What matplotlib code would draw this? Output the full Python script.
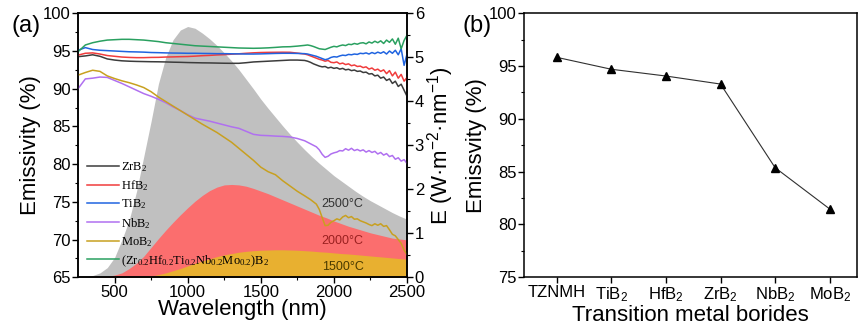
import matplotlib
matplotlib.use('Agg')
import matplotlib.pyplot as plt
import numpy as np

plt.rcParams['font.family'] = ['Liberation Sans', 'DejaVu Sans']
plt.rcParams['mathtext.default'] = 'regular'

# ---- panel (a): blackbody exitance (right axis), 50 nm steps ----
wl_bb = np.arange(250, 2501, 50)
bb_2500 = [0.0, 0.01, 0.04, 0.10, 0.22, 0.45, 0.85, 1.30, 1.95, 2.75, 3.55, 4.40, 5.00, 5.40, 5.62, 5.70,
           5.66, 5.55, 5.42, 5.27, 5.10, 4.92, 4.72, 4.50, 4.28, 4.05, 3.84, 3.64, 3.44, 3.25, 3.07, 2.90,
           2.74, 2.59, 2.45, 2.31, 2.19, 2.07, 1.95, 1.84, 1.74, 1.65, 1.56, 1.47, 1.39, 1.32]
bb_2000 = [0, 0, 0, 0.005, 0.02, 0.05, 0.10, 0.20, 0.32, 0.48, 0.68, 0.88, 1.07, 1.25, 1.42, 1.58,
           1.73, 1.86, 1.97, 2.05, 2.10, 2.11, 2.10, 2.07, 2.02, 1.96, 1.90, 1.83, 1.76, 1.69, 1.62, 1.55,
           1.48, 1.41, 1.35, 1.28, 1.22, 1.16, 1.11, 1.06, 1.01, 0.97, 0.93, 0.89, 0.87, 0.85]
bb_1500 = [0, 0, 0, 0, 0, 0, 0, 0, 0.005, 0.015, 0.03, 0.06, 0.10, 0.15, 0.20, 0.26,
           0.32, 0.37, 0.42, 0.47, 0.51, 0.54, 0.57, 0.59, 0.605, 0.615, 0.62, 0.625, 0.625, 0.62, 0.615, 0.605,
           0.595, 0.58, 0.57, 0.555, 0.54, 0.53, 0.515, 0.50, 0.485, 0.47, 0.455, 0.44, 0.425, 0.41]

# ---- panel (a): emissivity spectra (left axis) ----
wl = np.r_[250:1801:50, 1820:2501:20]
e_zr = [94.25, 94.35, 94.5, 94.3, 93.95, 93.8, 93.7, 93.65, 93.62, 93.6, 93.58, 93.57, 93.55, 93.52, 93.5, 93.47,
        93.45, 93.43, 93.42, 93.4, 93.38, 93.37, 93.37, 93.45, 93.55, 93.6, 93.65, 93.7, 93.75, 93.8, 93.8, 93.75,
        93.65, 93.5, 93.3, 93.15, 93.0, 92.9, 92.95, 92.75, 92.85, 92.7, 92.78, 92.6, 92.7, 92.5, 92.58, 92.4,
        92.48, 92.3, 92.35, 92.15, 92.2, 91.95, 92.0, 91.7, 91.8, 91.4, 91.55, 91.1, 91.3, 90.7, 91.0, 90.3,
        90.6, 89.8, 89.0]
e_hf = [94.45, 94.7, 94.75, 94.6, 94.4, 94.3, 94.2, 94.15, 94.12, 94.12, 94.15, 94.16, 94.2, 94.22, 94.25, 94.27,
        94.32, 94.38, 94.42, 94.48, 94.52, 94.58, 94.63, 94.7, 94.76, 94.8, 94.82, 94.83, 94.84, 94.83, 94.72, 94.6,
        94.5, 94.35, 94.2, 94.05, 93.9, 93.8, 93.65, 93.75, 93.5, 93.45, 93.55, 93.3, 93.4, 93.2, 93.3, 93.05,
        93.15, 92.95, 93.0, 92.8, 92.9, 92.6, 92.75, 92.45, 92.6, 92.3, 92.5, 92.0, 92.4, 91.7, 92.2, 91.4,
        91.9, 91.0, 91.5]
e_ti = [95.1, 95.45, 95.2, 95.1, 95.05, 95.0, 94.95, 94.9, 94.88, 94.85, 94.8, 94.78, 94.75, 94.73, 94.72, 94.7,
        94.7, 94.68, 94.67, 94.65, 94.65, 94.63, 94.62, 94.6, 94.6, 94.62, 94.65, 94.68, 94.7, 94.7, 94.68, 94.65,
        94.6, 94.5, 94.4, 94.3, 94.15, 94.0, 93.85, 93.95, 94.15, 94.25, 94.2, 94.35, 94.45, 94.4, 94.55, 94.5,
        94.6, 94.55, 94.7, 94.65, 94.75, 94.6, 94.8, 94.65, 94.85, 94.7, 94.9, 94.6, 95.0, 94.7, 95.1, 94.5,
        95.3, 93.1, 94.6]
e_nb = [90.0, 91.3, 91.4, 91.55, 91.5, 91.1, 90.7, 90.25, 89.8, 89.35, 89.0, 88.6, 88.15, 87.6, 87.1, 86.55,
        86.1, 85.9, 85.7, 85.45, 85.2, 84.95, 84.75, 84.35, 83.95, 83.82, 83.78, 83.72, 83.68, 83.6, 83.4, 83.1,
        82.9, 82.7, 82.5, 82.3, 81.9, 81.3, 80.9, 81.05, 81.35, 81.5, 81.6, 81.8, 81.75, 82.05, 81.85, 82.1,
        81.8, 81.95, 81.75, 81.9, 81.6, 81.8, 81.55, 81.7, 81.35, 81.55, 81.2, 81.4, 81.0, 81.15, 80.65, 80.85,
        80.4, 80.6, 80.1]
e_mo = [91.8, 92.15, 92.45, 92.3, 91.7, 91.35, 91.05, 90.8, 90.5, 90.15, 89.6, 88.9, 88.3, 87.7, 87.1, 86.5,
        85.9, 85.3, 84.75, 84.2, 83.55, 82.9, 82.1, 81.3, 80.5, 79.6, 79.0, 78.6, 77.8, 77.1, 76.4, 75.8,
        75.55, 75.3, 75.0, 74.7, 74.0, 72.9, 71.85, 71.9, 72.3, 72.5, 72.75, 72.6, 73.0, 73.2, 72.9, 73.05,
        72.7, 72.75, 72.5, 72.35, 72.2, 72.0, 71.85, 72.1, 71.9, 72.1, 71.75, 71.85, 71.3, 70.7, 70.5, 70.0,
        69.5, 68.6, 68.0]
e_hea = [94.9, 95.8, 96.1, 96.3, 96.45, 96.5, 96.55, 96.55, 96.5, 96.45, 96.35, 96.25, 96.1, 96.0, 95.9, 95.8,
         95.7, 95.65, 95.6, 95.55, 95.5, 95.45, 95.4, 95.38, 95.36, 95.38, 95.42, 95.48, 95.55, 95.57, 95.65, 95.75,
         95.8, 95.72, 95.6, 95.45, 95.3, 95.25, 95.2, 95.35, 95.5, 95.62, 95.55, 95.7, 95.8, 95.72, 95.9, 95.85,
         96.0, 95.9, 96.05, 96.1, 95.95, 96.2, 96.05, 96.3, 96.1, 96.35, 96.0, 96.45, 96.15, 96.6, 95.9, 96.7,
         95.3, 96.4, 97.1]

# ---- panel (b) ----
borides = ['TZNMH', 'TiB$_2$', 'HfB$_2$', 'ZrB$_2$', 'NbB$_2$', 'MoB$_2$']
emiss_avg = [95.83, 94.7, 94.06, 93.3, 85.38, 81.47]

fig = plt.figure(figsize=(8.66, 3.26), dpi=100)
ax = fig.add_axes([0.0901, 0.1494, 0.3799, 0.8098])
axr = ax.twinx()
ax.set_zorder(axr.get_zorder() + 1)
ax.patch.set_visible(False)

axr.fill_between(wl_bb, 0, bb_2500, color='#c0c0c0', lw=0)
axr.fill_between(wl_bb, 0, bb_2000, color='#fb6e6e', lw=0)
axr.fill_between(wl_bb, 0, bb_1500, color='#e8b030', lw=0)
axr.set_ylim(0, 6)
axr.set_yticks(range(0, 7))
axr.set_yticks(np.arange(0.5, 6, 1), minor=True)
axr.set_ylabel('E (W·m$^{-2}$·nm$^{-1}$)', fontsize=16, labelpad=1)
axr.text(2060, 1.67, '2500°C', fontsize=9, color='#333333', ha='center', va='center')
axr.text(2060, 0.82, '2000°C', fontsize=9, color='#9a2020', ha='center', va='center')
axr.text(2060, 0.23, '1500°C', fontsize=9, color='#4a3a00', ha='center', va='center')

series = [(e_zr, '#3c3c3c', 'ZrB$_2$'),
          (e_hf, '#f03c3c', 'HfB$_2$'),
          (e_ti, '#2064e0', 'TiB$_2$'),
          (e_nb, '#b070f0', 'NbB$_2$'),
          (e_mo, '#c8a020', 'MoB$_2$'),
          (e_hea, '#2aa060', '(Zr$_{0.2}$Hf$_{0.2}$Ti$_{0.2}$Nb$_{0.2}$Mo$_{0.2}$)B$_2$')]
for vals, col, lab in series:
    ax.plot(wl, vals, color=col, lw=1.1, label=lab)

ax.set_xlim(250, 2500)
ax.set_ylim(65, 100)
ax.set_xticks([500, 1000, 1500, 2000, 2500])
ax.set_xticks([750, 1250, 1750, 2250], minor=True)
ax.set_yticks(range(65, 101, 5))
ax.set_yticks(np.arange(67.5, 100, 5), minor=True)
ax.set_xlabel('Wavelength (nm)', fontsize=16, labelpad=-1)
ax.set_ylabel('Emissivity (%)', fontsize=16, labelpad=1)
ax.legend(loc='lower left', bbox_to_anchor=(0.0, 0.0), frameon=False,
          prop={'family': 'Liberation Serif', 'size': 9}, handlelength=2.6,
          handletextpad=0.1, labelspacing=0.35, borderaxespad=0.3)
ax.text(-0.158, 0.952, '(a)', transform=ax.transAxes, fontsize=17, ha='center', va='center')

for a in (ax, axr):
    a.tick_params(which='major', direction='out', length=4, width=1, labelsize=12, pad=1.5)
    a.tick_params(which='minor', direction='out', length=2.5, width=0.8)
    for s in a.spines.values():
        s.set_linewidth(1.1)

# ---- panel (b) ----
bx = fig.add_axes([0.6051, 0.1494, 0.3845, 0.8098])
pos = np.arange(len(borides))
bx.plot(pos, emiss_avg, color='#303030', lw=0.8, marker='^', ms=6, mfc='black', mec='black')
bx.set_xlim(-0.6, 5.5)
bx.set_ylim(75, 100)
bx.set_xticks(pos)
bx.set_xticklabels(borides)
bx.set_yticks(range(75, 101, 5))
bx.set_yticks(np.arange(77.5, 100, 5), minor=True)
bx.set_xlabel('Transition metal borides', fontsize=16, labelpad=1)
bx.set_ylabel('Emissvity (%)', fontsize=16, labelpad=1)
bx.tick_params(which='major', direction='out', length=4, width=1, labelsize=12, pad=1.5)
bx.tick_params(which='minor', direction='out', length=2.5, width=0.8)
for s in bx.spines.values():
    s.set_linewidth(1.1)
bx.text(-0.141, 0.952, '(b)', transform=bx.transAxes, fontsize=17, ha='center', va='center')

fig.savefig('out.png', dpi=100)
